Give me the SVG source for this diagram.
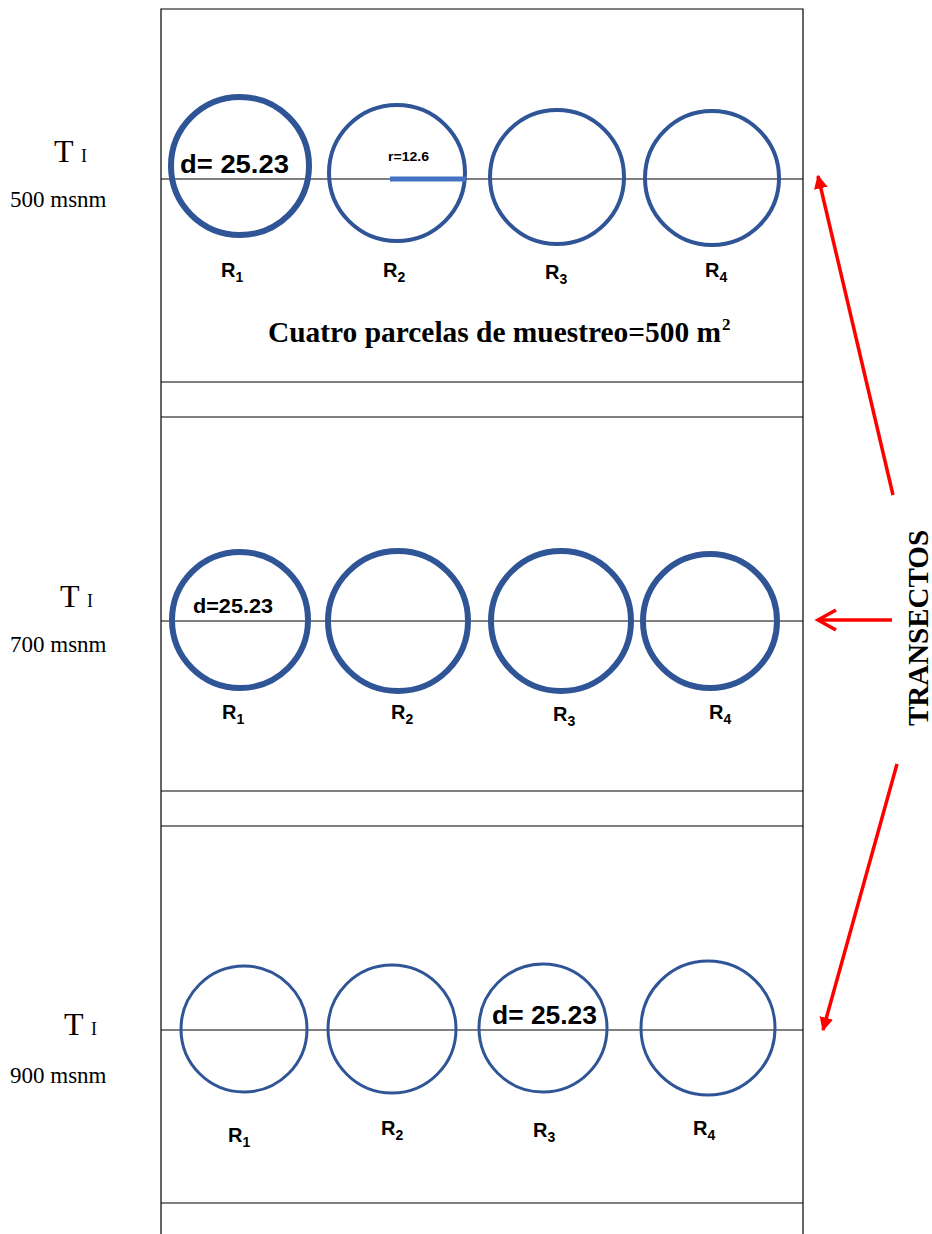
<svg xmlns="http://www.w3.org/2000/svg" width="932" height="1234" viewBox="0 0 932 1234">
<defs>
<style>
.frame{fill:none;stroke:#000;stroke-width:1.2}
.axis{stroke:#000;stroke-width:1.2}
.c{fill:none;stroke:#2F5597}
.thick{stroke-width:6}
.med{stroke-width:4}
.thin{stroke-width:3}
.lab{font-family:"Liberation Sans",Arial,sans-serif;font-weight:bold;font-size:20px;fill:#000}
.sub{font-size:14px}
.d{font-family:"Liberation Sans",Arial,sans-serif;font-weight:bold;fill:#000}
.tm{font-family:"Liberation Serif","Times New Roman",serif;fill:#000}
.arrow{stroke:#FF0000;stroke-width:3.5;fill:none}
</style>
<marker id="ah" viewBox="0 0 10 10" refX="9" refY="5" markerWidth="4" markerHeight="4" orient="auto" markerUnits="strokeWidth">
<path d="M0,0 L10,5 L0,10 Z" fill="#FF0000"/>
</marker>
</defs>
<rect width="932" height="1234" fill="#fff"/>

<g id="frame">
<path class="frame" d="M161,1234 V9 H803 V1234"/>
<line class="axis" x1="161" y1="382" x2="803" y2="382"/>
<line class="axis" x1="161" y1="417" x2="803" y2="417"/>
<line class="axis" x1="161" y1="791" x2="803" y2="791"/>
<line class="axis" x1="161" y1="826" x2="803" y2="826"/>
<line class="axis" x1="161" y1="1203" x2="803" y2="1203"/>
<line class="axis" x1="161" y1="179" x2="803" y2="179"/>
<line class="axis" x1="161" y1="621" x2="803" y2="621"/>
<line class="axis" x1="161" y1="1030" x2="803" y2="1030"/>
</g>

<g id="labels-left">
<text class="tm" x="54" y="162" font-size="32">T <tspan font-size="18">I</tspan></text>
<text class="tm" x="10" y="207" font-size="23">500 msnm</text>
<text class="tm" x="60" y="607" font-size="32">T <tspan font-size="18">I</tspan></text>
<text class="tm" x="10" y="652" font-size="23">700 msnm</text>
<text class="tm" x="64" y="1035" font-size="32">T <tspan font-size="18">I</tspan></text>
<text class="tm" x="10" y="1083" font-size="23">900 msnm</text>
</g>

<g id="t1">
<g id="t1-r1">
<circle class="c thick" cx="240" cy="166" r="69"/>
<text class="d" x="180" y="173" font-size="25" textLength="109" lengthAdjust="spacingAndGlyphs">d= 25.23</text>
<text class="lab" x="221" y="277">R<tspan class="sub" dy="5">1</tspan></text>
</g>
<g id="t1-r2">
<circle class="c med" cx="397" cy="173" r="68"/>
<line x1="390" y1="179" x2="466" y2="179" stroke="#4472C4" stroke-width="5"/>
<text class="d" x="388" y="161" font-size="12" textLength="41" lengthAdjust="spacingAndGlyphs">r=12.6</text>
<text class="lab" x="383" y="277">R<tspan class="sub" dy="5">2</tspan></text>
</g>
<g id="t1-r3">
<circle class="c med" cx="557" cy="177" r="67"/>
<text class="lab" x="545" y="279">R<tspan class="sub" dy="5">3</tspan></text>
</g>
<g id="t1-r4">
<circle class="c med" cx="712" cy="178" r="67"/>
<text class="lab" x="705" y="277">R<tspan class="sub" dy="5">4</tspan></text>
</g>
<text class="tm" x="268" y="342" font-size="29" font-weight="bold" textLength="453" lengthAdjust="spacingAndGlyphs">Cuatro parcelas de muestreo=500 m</text>
<text class="tm" x="722" y="330" font-size="17" font-weight="bold">2</text>
</g>

<g id="t2">
<g id="t2-r1">
<circle class="c thick" cx="240" cy="620" r="68"/>
<text class="d" x="193" y="613" font-size="20" textLength="80" lengthAdjust="spacingAndGlyphs">d=25.23</text>
<text class="lab" x="222" y="719">R<tspan class="sub" dy="5">1</tspan></text>
</g>
<g id="t2-r2">
<circle class="c thick" cx="398" cy="621" r="70"/>
<text class="lab" x="391" y="719">R<tspan class="sub" dy="5">2</tspan></text>
</g>
<g id="t2-r3">
<circle class="c thick" cx="561" cy="621" r="70"/>
<text class="lab" x="553" y="721">R<tspan class="sub" dy="5">3</tspan></text>
</g>
<g id="t2-r4">
<circle class="c thick" cx="710" cy="621" r="67"/>
<text class="lab" x="709" y="719">R<tspan class="sub" dy="5">4</tspan></text>
</g>
</g>

<g id="t3">
<g id="t3-r1">
<circle class="c thin" cx="244" cy="1029" r="63"/>
<text class="lab" x="228" y="1142">R<tspan class="sub" dy="5">1</tspan></text>
</g>
<g id="t3-r2">
<circle class="c thin" cx="392" cy="1029" r="64"/>
<text class="lab" x="381" y="1135">R<tspan class="sub" dy="5">2</tspan></text>
</g>
<g id="t3-r3">
<circle class="c thin" cx="543" cy="1028" r="64"/>
<text class="d" x="492" y="1024" font-size="25" textLength="105" lengthAdjust="spacingAndGlyphs">d= 25.23</text>
<text class="lab" x="533" y="1137">R<tspan class="sub" dy="5">3</tspan></text>
</g>
<g id="t3-r4">
<circle class="c thin" cx="708" cy="1028" r="67"/>
<text class="lab" x="693" y="1135">R<tspan class="sub" dy="5">4</tspan></text>
</g>
</g>

<g id="connectors">
<line class="arrow" x1="893" y1="495" x2="818" y2="176" marker-end="url(#ah)"/>
<line class="arrow" x1="892" y1="620" x2="818" y2="620"/>
<path class="arrow" d="M836,610 L818,620 L836,630"/>
<line class="arrow" x1="897" y1="764" x2="823" y2="1030" marker-end="url(#ah)"/>
</g>

<g id="transectos">
<text class="tm" transform="translate(928,628) rotate(-90)" text-anchor="middle" font-size="29" font-weight="bold">TRANSECTOS</text>
</g>
</svg>
